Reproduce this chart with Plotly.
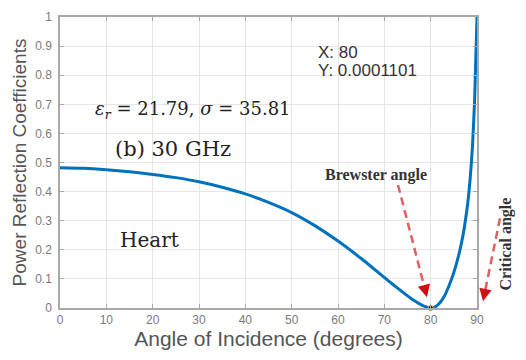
import plotly.graph_objects as go

# Power reflection coefficient vs. angle of incidence (heart tissue, 30 GHz)
angle = [0, 5, 10, 15, 20, 25, 30, 35, 40, 45, 50, 55, 60, 65, 70, 72, 74, 76,
         78, 79, 80, 81, 82, 83, 84, 85, 86, 87, 88, 88.5, 89, 89.5, 90]
refl = [0.482, 0.480, 0.475, 0.468, 0.459, 0.448, 0.434, 0.415, 0.392, 0.363,
        0.328, 0.283, 0.230, 0.170, 0.105, 0.079, 0.054, 0.030, 0.011, 0.004,
        0.0001101, 0.004, 0.018, 0.042, 0.078, 0.122, 0.178, 0.252, 0.360,
        0.440, 0.550, 0.720, 1.0]

tip_x = [80]
tip_y = [0.0001101]

x_ticks = [0, 10, 20, 30, 40, 50, 60, 70, 80, 90]
y_ticks = [0, 0.1, 0.2, 0.3, 0.4, 0.5, 0.6, 0.7, 0.8, 0.9, 1]
y_ticktext = ["0", "0.1", "0.2", "0.3", "0.4", "0.5", "0.6", "0.7", "0.8", "0.9", "1"]

BLUE = "#0072BD"
RED_DASH = "#e06060"
RED_HEAD = "#cc1111"
SERIF = "DejaVu Serif"
BOLD_SERIF = "Liberation Serif"
SANS = "Liberation Sans"

fig = go.Figure()
fig.add_trace(go.Scatter(x=angle, y=refl, mode="lines",
                         line=dict(color=BLUE, width=3, shape="spline", smoothing=0.6),
                         hoverinfo="skip", showlegend=False))
fig.add_trace(go.Scatter(x=tip_x, y=tip_y, mode="markers",
                         marker=dict(color="#111111", size=5,
                                     line=dict(color="#c8b040", width=1)),
                         showlegend=False, cliponaxis=False))

axis_common = dict(showgrid=True, gridcolor="#e6e6e6", gridwidth=1,
                   showline=True, linecolor="#a8a8a8", linewidth=1.5,
                   mirror="ticks", ticks="inside", ticklen=4,
                   tickcolor="#a8a8a8", zeroline=False,
                   tickfont=dict(family=SANS, size=12, color="#7a7a7a"),
                   fixedrange=True)

fig.update_xaxes(range=[0, 90], tickvals=x_ticks, **axis_common,
                 title=dict(text="Angle of Incidence (degrees)", standoff=4,
                            font=dict(family=SANS, size=21, color="#555555")))
fig.update_yaxes(range=[0, 1], tickvals=y_ticks, ticktext=y_ticktext,
                 ticklabelstandoff=4, **axis_common,
                 title=dict(text="Power Reflection Coefficients", standoff=4,
                            font=dict(family=SANS, size=19, color="#555555")))


def px_to_paper(px, py):
    """Convert pixel position in the figure to paper coordinates."""
    return (px - 60) / 417, (308 - py) / 298


def text_note(px, py, text, family, size, color, xanchor="left", angle=0):
    x, y = px_to_paper(px, py)
    return dict(x=x, y=y, xref="paper", yref="paper", text=text, showarrow=False,
                xanchor=xanchor, yanchor="middle", textangle=angle,
                font=dict(family=family, size=size, color=color))


annotations = [
    # data tip readout
    text_note(316, 46, "X: 80", SANS, 17, "#3a3030"),
    text_note(316, 65, "Y: 0.0001101", SANS, 17, "#3a3030"),
    # material parameters and labels
    text_note(93, 105, "<i>ε<sub>r</sub></i> = 21.79, <i>σ</i> = 35.81",
              SERIF, 18, "#222222"),
    text_note(113, 145, "(b) 30 GHz", SERIF, 21, "#222222"),
    text_note(118, 238, "Heart", SERIF, 20, "#222222"),
    text_note(323, 172, "<b>Brewster angle</b>", BOLD_SERIF, 16, "#333333"),
    text_note(506, 243, "<b>Critical angle</b>", BOLD_SERIF, 16, "#333333",
              xanchor="center", angle=-90),
]

# dashed arrow bodies (paper coordinates so they can leave the plot box)
shapes = []
arrows = [((398, 182), (427, 297)), ((500, 216), (483, 301))]
for (sx, sy), (ex, ey) in arrows:
    L = ((ex - sx) ** 2 + (ey - sy) ** 2) ** 0.5
    x0, y0 = px_to_paper(sx, sy)
    x1, y1 = px_to_paper(ex - (ex - sx) * 7 / L, ey - (ey - sy) * 7 / L)
    shapes.append(dict(type="line", xref="paper", yref="paper",
                       x0=x0, y0=y0, x1=x1, y1=y1,
                       line=dict(color=RED_DASH, width=2.5, dash="8px,5px")))
    tx, ty = px_to_paper(ex, ey)
    annotations.append(dict(x=tx, y=ty, xref="paper", yref="paper", text="",
                            showarrow=True, arrowhead=2, arrowsize=1.0,
                            arrowwidth=2.5, arrowcolor=RED_HEAD,
                            ax=-(ex - sx) * 9 / L, ay=-(ey - sy) * 9 / L))

fig.update_layout(width=526, height=360,
                  margin=dict(l=60, r=49, t=10, b=52),
                  paper_bgcolor="white", plot_bgcolor="white",
                  annotations=annotations, shapes=shapes)

fig.write_html("out.html")
